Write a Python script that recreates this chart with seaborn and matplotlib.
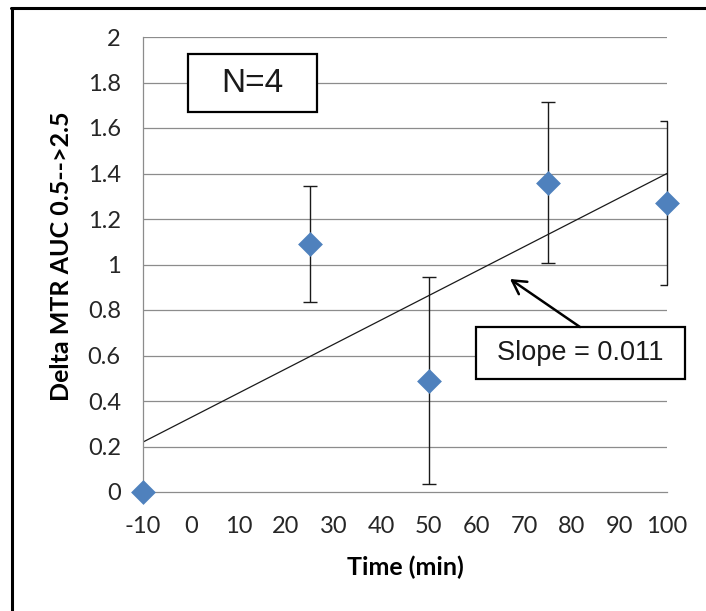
import numpy as np
import pandas as pd
import matplotlib
matplotlib.use("Agg")
import matplotlib.pyplot as plt
import seaborn as sns
from matplotlib.patches import Rectangle
from matplotlib.lines import Line2D

# ---- data ----
time_min = [-10, 25, 50, 75, 100]
delta_mtr = [0.0, 1.09, 0.49, 1.36, 1.27]
err = [0.0, 0.255, 0.455, 0.355, 0.36]
x_ticks = [-10, 0, 10, 20, 30, 40, 50, 60, 70, 80, 90, 100]
y_ticks = [0, 0.2, 0.4, 0.6, 0.8, 1, 1.2, 1.4, 1.6, 1.8, 2]
y_tick_labels = ["0", "0.2", "0.4", "0.6", "0.8", "1", "1.2", "1.4", "1.6", "1.8", "2"]
note_n = "N=4"
note_slope = "Slope = 0.011"

df = pd.DataFrame({"Time (min)": time_min, "Delta": delta_mtr, "err": err})

sns.set_theme(style="white")
plt.rcParams["font.family"] = ["Lato", "DejaVu Sans"]

W, H = 706, 611
fig = plt.figure(figsize=(W / 100, H / 100), dpi=100)
fig.patch.set_facecolor("white")

L, R, T, B = 143, 667, 37, 492
ax = fig.add_axes([L / W, 1 - B / H, (R - L) / W, (B - T) / H])
ax.set_facecolor("white")

grid_c = "#8c8c8c"
for yv in y_ticks[1:]:
    ax.axhline(yv, color=grid_c, lw=0.9, zorder=0)

# trendline (linear regression)
sns.regplot(data=df, x="Time (min)", y="Delta", ax=ax, scatter=False, ci=None,
            truncate=True, line_kws=dict(color="#1a1a1a", lw=0.9, zorder=2))

# error bars
eb = ax.errorbar(df["Time (min)"][1:], df["Delta"][1:], yerr=df["err"][1:], fmt="none",
                 ecolor="#1a1a1a", elinewidth=1.0, capsize=5, capthick=1.0, zorder=3)
for coll in eb[2]:
    coll.set_clip_on(False)

# markers
sns.scatterplot(data=df, x="Time (min)", y="Delta", ax=ax, marker="D", s=160,
                color="#4F81BD", edgecolor="#4F81BD", linewidth=0, zorder=4, clip_on=False)

ax.set_xlim(-10, 100)
ax.set_ylim(0, 2)
ax.set_xticks(x_ticks)
ax.set_xticklabels([str(v) for v in x_ticks])
ax.set_yticks(y_ticks)
ax.set_yticklabels(y_tick_labels)

for s in ["top", "right"]:
    ax.spines[s].set_visible(False)
for s in ["left", "bottom"]:
    ax.spines[s].set_color(grid_c)
    ax.spines[s].set_linewidth(0.9)

ax.tick_params(axis="both", direction="out", length=7, width=0.9, color=grid_c,
               labelsize=17, labelcolor="#262626")
ax.tick_params(axis="x", pad=10)
ax.tick_params(axis="y", pad=9)

ax.set_xlabel("Time (min)", fontsize=18, fontweight="bold", color="black", va="center")
ax.xaxis.set_label_coords(0.5, (B - 567) / (B - T))
ax.set_ylabel("Delta MTR AUC 0.5-->2.5", fontsize=18, fontweight="bold", color="black", va="center")
ax.yaxis.set_label_coords((62 - L) / (R - L), (B - 256) / (B - T))

def axc(px, py):
    return ((px - L) / (R - L), (B - py) / (B - T))

# N=4 box
x0, y1 = axc(188, 54)
x1, y0 = axc(317, 112)
ax.add_patch(Rectangle((x0, y0), x1 - x0, y1 - y0, transform=ax.transAxes, facecolor="white",
                       edgecolor="black", lw=1.6, zorder=6, clip_on=False))
ax.text((x0 + x1) / 2, (y0 + y1) / 2, note_n, transform=ax.transAxes, ha="center", va="center",
        fontsize=24, family="Liberation Sans", color="#1a1a1a", zorder=7)

# Slope box
x0, y1 = axc(476, 327)
x1, y0 = axc(685, 379)
ax.add_patch(Rectangle((x0, y0), x1 - x0, y1 - y0, transform=ax.transAxes, facecolor="white",
                       edgecolor="black", lw=1.6, zorder=6, clip_on=False))
ax.text((x0 + x1) / 2, (y0 + y1) / 2, note_slope, transform=ax.transAxes, ha="center", va="center",
        fontsize=19.5, family="Liberation Sans", color="#1a1a1a", zorder=7)

# arrow
ax.annotate("", xy=axc(510, 279), xytext=axc(580, 327), xycoords="axes fraction",
            textcoords="axes fraction",
            arrowprops=dict(arrowstyle="->,head_length=0.8,head_width=0.45", color="black", lw=1.8,
                            shrinkA=0, shrinkB=0), zorder=7)

# outer chart border (top and left visible)
fig.add_artist(Line2D([11 / W, 1], [1 - 7.5 / H, 1 - 7.5 / H], color="black", lw=2.2,
                      transform=fig.transFigure))
fig.add_artist(Line2D([11.5 / W, 11.5 / W], [0, 1 - 7.5 / H], color="black", lw=2.2,
                      transform=fig.transFigure))

fig.savefig("out.png", dpi=100, facecolor="white")
